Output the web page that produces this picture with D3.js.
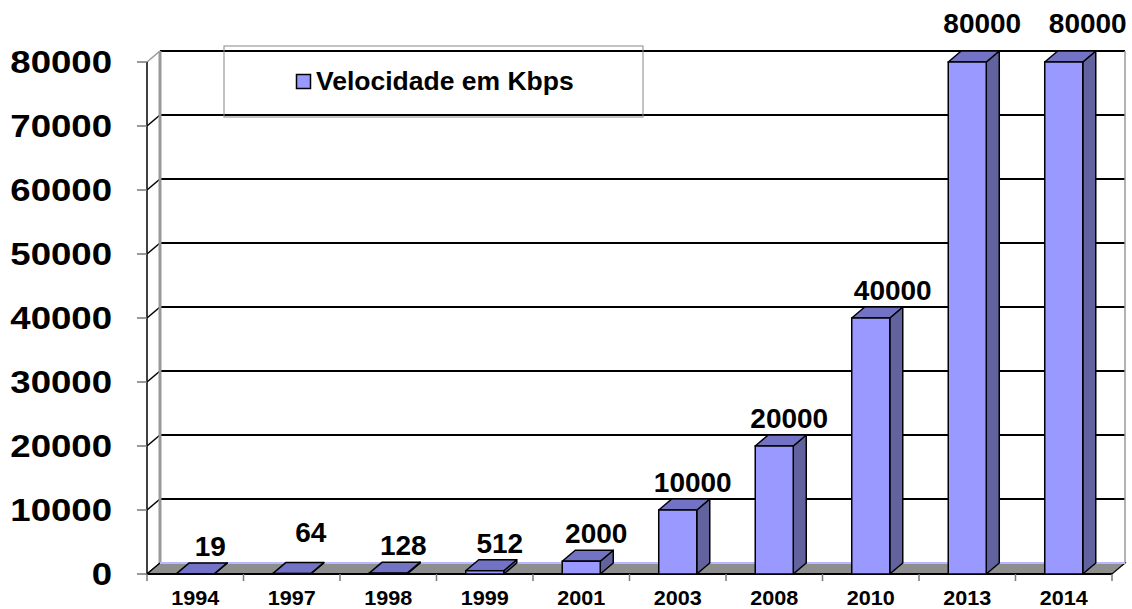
<!DOCTYPE html>
<html>
<head>
<meta charset="utf-8">
<script src="https://cdn.jsdelivr.net/npm/d3@7"></script>
<style>
  body { margin: 0; background: #fff; }
  text { font-family: "Liberation Sans", Arial, sans-serif; font-weight: bold; fill: #000; }
</style>
</head>
<body>
<div id="chart"></div>
<script>
// data
var years = ["1994", "1997", "1998", "1999", "2001", "2003", "2008", "2010", "2013", "2014"];
var speeds = [19, 64, 128, 512, 2000, 10000, 20000, 40000, 80000, 80000];
var yTicks = [0, 10000, 20000, 30000, 40000, 50000, 60000, 70000, 80000];
var seriesName = "Velocidade em Kbps";

var W = 1132, H = 609;
var pLeft = 147, pRight = 1112, pBottom = 574, pTop = 62;
var dx = 13, dy = -11;   // 3d depth

var svg = d3.select("#chart").append("svg")
    .attr("width", W)
    .attr("height", H);

var x = d3.scaleBand()
    .domain(years)
    .range([pLeft, pRight])
    .paddingInner(0.606)
    .paddingOuter(0.303);

var xCell = d3.scaleBand()
    .domain(years)
    .range([pLeft, pRight]);

var y = d3.scaleLinear()
    .domain([0, 80000])
    .range([pBottom, pTop]);

function pts(a) { return a.map(function(p) { return p.join(","); }).join(" "); }

// back wall
svg.append("rect")
    .attr("x", pLeft + dx).attr("y", y(80000) + dy)
    .attr("width", pRight - pLeft).attr("height", pBottom - y(80000))
    .attr("fill", "#fff");

// grid on back wall + left wall
svg.append("g").selectAll("line")
  .data(yTicks.filter(function(d) { return d > 0; }))
  .enter().append("line")
    .attr("x1", pLeft + dx).attr("x2", pRight + dx)
    .attr("y1", function(d) { return y(d) + dy; })
    .attr("y2", function(d) { return y(d) + dy; })
    .attr("stroke", "#000").attr("stroke-width", 2);

svg.append("g").selectAll("line")
  .data(yTicks)
  .enter().append("line")
    .attr("x1", pLeft).attr("x2", pLeft + dx)
    .attr("y1", function(d) { return y(d); })
    .attr("y2", function(d) { return y(d) + dy; })
    .attr("stroke", function(d) { return d == 80000 ? "#999" : "#000"; })
    .attr("stroke-width", 1.5);

// wall edges
svg.append("line")
    .attr("x1", pLeft + dx).attr("x2", pLeft + dx)
    .attr("y1", y(80000) + dy).attr("y2", pBottom + dy)
    .attr("stroke", "#999").attr("stroke-width", 3);
svg.append("line")
    .attr("x1", pRight + dx).attr("x2", pRight + dx)
    .attr("y1", y(80000) + dy).attr("y2", pBottom + dy)
    .attr("stroke", "#999").attr("stroke-width", 1.5);

// floor
svg.append("polygon")
    .attr("points", pts([[pLeft, pBottom], [pRight, pBottom], [pRight + dx, pBottom + dy], [pLeft + dx, pBottom + dy]]))
    .attr("fill", "#8e8e8e").attr("stroke", "#000").attr("stroke-width", 1.2);
svg.append("line")
    .attr("x1", pLeft + dx).attr("x2", pRight + dx)
    .attr("y1", pBottom + dy).attr("y2", pBottom + dy)
    .attr("stroke", "#b8b8ff").attr("stroke-width", 2);
svg.append("line")
    .attr("x1", pLeft).attr("x2", pRight)
    .attr("y1", pBottom).attr("y2", pBottom)
    .attr("stroke", "#000").attr("stroke-width", 2);

// front (left) axis line
svg.append("line")
    .attr("x1", pLeft).attr("x2", pLeft)
    .attr("y1", y(80000)).attr("y2", pBottom)
    .attr("stroke", "#000").attr("stroke-width", 1.5);

// bars
var bars = svg.append("g").selectAll("g")
  .data(years.map(function(d, i) { return {year: d, v: speeds[i]}; }))
  .enter().append("g");

bars.append("polygon")   // side
    .attr("points", function(d) {
      var x1 = x(d.year) + x.bandwidth(), yt = y(d.v);
      return pts([[x1, pBottom], [x1 + dx, pBottom + dy], [x1 + dx, yt + dy], [x1, yt]]);
    })
    .attr("fill", "#62629e").attr("stroke", "#000").attr("stroke-width", 1.5).attr("stroke-linejoin", "round");

bars.append("polygon")   // top
    .attr("points", function(d) {
      var x0 = x(d.year), x1 = x0 + x.bandwidth(), yt = y(d.v);
      return pts([[x0, yt], [x1, yt], [x1 + dx, yt + dy], [x0 + dx, yt + dy]]);
    })
    .attr("fill", "#7373c6").attr("stroke", "#000").attr("stroke-width", 1.5).attr("stroke-linejoin", "round");

bars.append("rect")   // front
    .attr("x", function(d) { return x(d.year); })
    .attr("y", function(d) { return y(d.v); })
    .attr("width", x.bandwidth())
    .attr("height", function(d) { return pBottom - y(d.v); })
    .attr("fill", "#9999ff").attr("stroke", "#000").attr("stroke-width", 1.5);

// value labels (Excel shifted a few of them)
var nudge = {"1997": [4, -14], "2010": [7, 0], "2013": [0, -11], "2014": [9, -11]};
bars.append("text")
    .attr("text-anchor", "middle")
    .attr("font-size", "28px")
    .attr("x", function(d) { return x(d.year) + x.bandwidth() / 2 + 15 + (nudge[d.year] ? nudge[d.year][0] : 0); })
    .attr("y", function(d) { return y(d.v) - 18 + (nudge[d.year] ? nudge[d.year][1] : 0); })
    .text(function(d) { return d.v; });

// y ticks and labels
svg.append("g").selectAll("line")
  .data(yTicks)
  .enter().append("line")
    .attr("x1", pLeft - 10).attr("x2", pLeft)
    .attr("y1", function(d) { return y(d); })
    .attr("y2", function(d) { return y(d); })
    .attr("stroke", "#777").attr("stroke-width", 1.5);

svg.append("g").selectAll("text")
  .data(yTicks)
  .enter().append("text")
    .attr("text-anchor", "end")
    .attr("font-size", "31px")
    .attr("transform", function(d) { return "translate(112," + (y(d) + 11) + ") scale(1.18,1)"; })
    .text(function(d) { return d; });

// x ticks and labels
var xBounds = years.map(function(d) { return xCell(d); }).concat([pRight]);
svg.append("g").selectAll("line")
  .data(xBounds)
  .enter().append("line")
    .attr("x1", function(d) { return d; }).attr("x2", function(d) { return d; })
    .attr("y1", pBottom).attr("y2", pBottom + 7)
    .attr("stroke", "#777").attr("stroke-width", 1.5);

svg.append("g").selectAll("text")
  .data(years)
  .enter().append("text")
    .attr("text-anchor", "middle")
    .attr("font-size", "20px")
    .attr("transform", function(d) { return "translate(" + (xCell(d) + xCell.bandwidth() / 2) + ",605) scale(1.08,1)"; })
    .text(function(d) { return d; });

// legend
var lg = svg.append("g");
lg.append("rect")
    .attr("x", 224).attr("y", 46).attr("width", 419).attr("height", 71)
    .attr("fill", "none").attr("stroke", "#888").attr("stroke-width", 1);
lg.append("rect")
    .attr("x", 296.5).attr("y", 74.5).attr("width", 14).attr("height", 14)
    .attr("fill", "#9999ff").attr("stroke", "#000").attr("stroke-width", 1.5);
lg.append("text")
    .attr("x", 316).attr("y", 90)
    .attr("font-size", "26.5px")
    .text(seriesName);
</script>
</body>
</html>
